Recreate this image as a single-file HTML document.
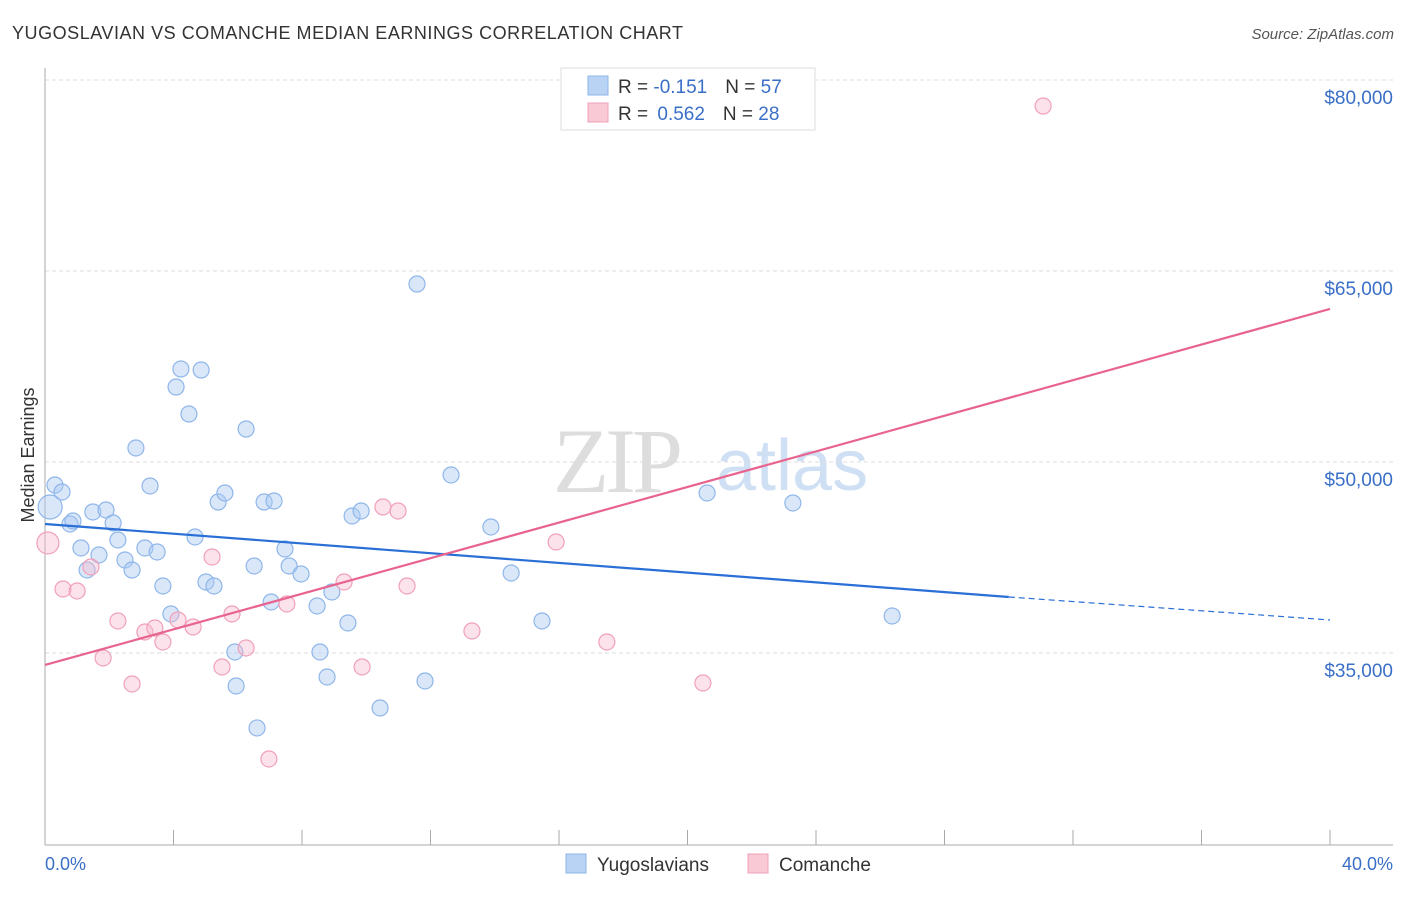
<!DOCTYPE html>
<html><head><meta charset="utf-8">
<style>
body{margin:0;background:#fff;width:1406px;height:892px;overflow:hidden;font-family:"Liberation Sans",sans-serif}
</style></head>
<body>
<svg width="1406" height="892" xmlns="http://www.w3.org/2000/svg" style="font-family:'Liberation Sans',sans-serif">
<text x="12" y="39" font-size="18" fill="#333" textLength="671">YUGOSLAVIAN VS COMANCHE MEDIAN EARNINGS CORRELATION CHART</text>
<text x="1394" y="39" font-size="15" fill="#555" font-style="italic" text-anchor="end">Source: ZipAtlas.com</text>
<g>
<text x="553" y="492" font-size="92" fill="#ddd" font-family="Liberation Serif,serif" letter-spacing="-4">ZIP</text>
<text x="716" y="490" font-size="72" fill="#cfe0f4">atlas</text>
</g>
<g id="grid"></g>
<line x1="45" y1="68" x2="45" y2="845" stroke="#aaa"/>
<line x1="45" y1="845" x2="1393" y2="845" stroke="#aaa"/>
<g id="ticks"></g>
<text x="34" y="455" font-size="18" fill="#333" text-anchor="middle" transform="rotate(-90 34 455)">Median Earnings</text>
<text x="45" y="870" font-size="18" fill="#3a6fc8">0.0%</text>
<text x="1393" y="870" font-size="18" fill="#3a6fc8" text-anchor="end">40.0%</text>
<g id="pts"></g>
<g id="lines"></g>
<g>
<rect x="561" y="68" width="254" height="62" fill="#fff" stroke="#ddd"/>
<rect x="588" y="76" width="20" height="19" fill="#b9d3f5" stroke="#8fb6ea"/>
<rect x="588" y="103" width="20" height="19" fill="#f9c9d6" stroke="#f0a0b8"/>
<text x="618" y="93" font-size="19" fill="#333">R = <tspan fill="#3a6fc8">-0.151</tspan><tspan dx="18">N = </tspan><tspan fill="#3a6fc8">57</tspan></text>
<text x="618" y="120" font-size="19" fill="#333">R = <tspan fill="#3a6fc8" dx="4">0.562</tspan><tspan dx="18">N = </tspan><tspan fill="#3a6fc8">28</tspan></text>
</g>
<g>
<rect x="566" y="854" width="20" height="19" fill="#b9d3f5" stroke="#8fb6ea"/>
<text x="597" y="871" font-size="19" fill="#333">Yugoslavians</text>
<rect x="748" y="854" width="20" height="19" fill="#f9c9d6" stroke="#f0a0b8"/>
<text x="779" y="871" font-size="19" fill="#333">Comanche</text>
</g>
</svg>
<script>
const yTicks=[35000,50000,65000,80000];
const yTickLabels=["$35,000","$50,000","$65,000","$80,000"];
const blueX=[0.31,0.53,0.16,0.78,0.87,1.49,1.90,2.12,1.12,1.31,1.68,2.27,2.49,2.71,3.11,3.49,2.83,3.27,3.67,3.92,4.08,4.23,4.48,4.86,4.67,5.01,5.26,5.39,5.60,6.26,6.51,5.91,5.95,6.60,6.82,7.13,7.04,7.47,7.60,7.97,8.47,8.56,8.78,8.93,9.43,9.56,9.84,10.43,11.58,11.83,12.64,13.88,14.51,15.47,20.61,23.28,26.37];
const blueY=[48195,47646,46468,45133,45368,46075,46232,45211,43248,41520,42698,43876,42306,41520,43248,42934,51101,48117,40264,38065,55891,57305,53771,57226,44112,40578,40264,46860,47567,52593,41834,35081,32411,29113,46860,46939,39007,43169,41834,41206,38693,35081,33118,39793,37358,45761,46154,30683,63980,32803,48981,44897,41285,37515,47567,46782,37908];
const pinkX=[31.07,0.09,0.56,1.00,1.43,1.81,2.27,2.71,3.11,3.42,3.67,4.14,4.61,5.20,5.51,5.82,6.26,6.97,7.53,9.31,9.87,10.52,10.99,11.27,13.29,15.91,17.49,20.48];
const pinkY=[77958,43641,40028,39871,41756,34610,37515,32568,36651,36966,35866,37594,37044,42541,33903,38065,35395,26678,38850,40578,33903,46468,46154,40264,36730,43719,35866,32646];
const blueTrend=[45133,39400,37594]; // at x=0,30,40
const pinkTrend=[34060,62017]; // at x=0,40
const NS="http://www.w3.org/2000/svg";
const X=v=>45+v*1285/40;
const Y=v=>80+(80000-v)*191/15000;
function mk(t,a,p){const e=document.createElementNS(NS,t);for(const k in a)e.setAttribute(k,a[k]);p.appendChild(e);return e;}
const grid=document.getElementById('grid');
yTicks.forEach((t,i)=>{
 const l=mk('line',{x1:45,x2:1393,y1:Y(t),y2:Y(t),stroke:'#ddd','stroke-dasharray':'4,3'},grid);
 
 
 const tx=mk('text',{x:1393,y:Y(t)+24,'font-size':19,fill:'#3a6fc8','text-anchor':'end'},grid);
 tx.textContent=yTickLabels[i];
 
 
});
const ticks=document.getElementById('ticks');
for(let i=0;i<=10;i++){
 const l=mk('line',{x1:X(i*4),x2:X(i*4),y1:830,y2:845,stroke:'#aaa'},ticks);
 
 
}
const pts=document.getElementById('pts');
blueX.forEach((x,i)=>{
 const r=(i==2)?12:8;
 const c=mk('circle',{cx:X(x),cy:Y(blueY[i]),r:r,fill:'rgba(170,202,242,0.45)',stroke:'#8fb6ea','stroke-width':1.2},pts);
 
 
});
pinkX.forEach((x,i)=>{
 const r=(i==1)?11:8;
 const c=mk('circle',{cx:X(x),cy:Y(pinkY[i]),r:r,fill:'rgba(248,185,205,0.4)',stroke:'#f0a0b8','stroke-width':1.2},pts);
 
 
});
const lines=document.getElementById('lines');
const b1=mk('line',{x1:X(0),y1:Y(blueTrend[0]),x2:X(30),y2:Y(blueTrend[1]),stroke:'#2a6fd6','stroke-width':2.2},lines);


const b2=mk('line',{x1:X(30),y1:Y(blueTrend[1]),x2:X(40),y2:Y(blueTrend[2]),stroke:'#2a6fd6','stroke-width':1.2,'stroke-dasharray':'6,4'},lines);


const p1=mk('line',{x1:X(0),y1:Y(pinkTrend[0]),x2:X(40),y2:Y(pinkTrend[1]),stroke:'#e8648f','stroke-width':2.2},lines);


</script>
</body></html>
